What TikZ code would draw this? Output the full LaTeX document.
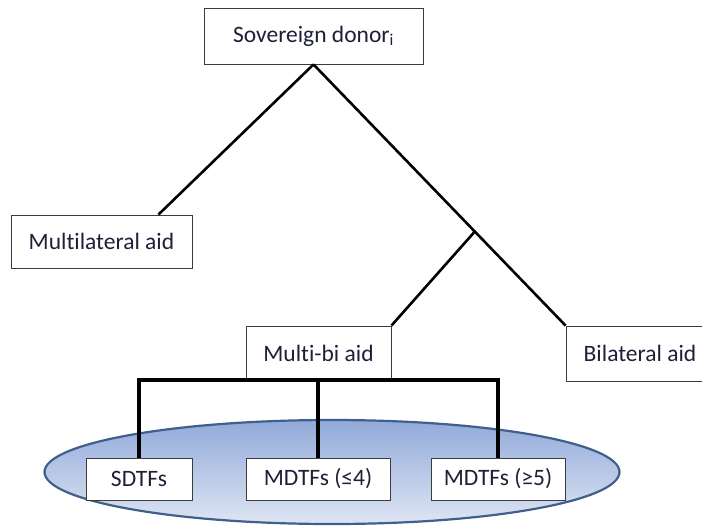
\documentclass[tikz,border=0pt]{standalone}
\usepackage{fontspec}
\setmainfont{Carlito}[Ligatures=NoCommon]
\usepackage{xcolor}
\usetikzlibrary{
    shapes,
    shapes.geometric,
    positioning,
    calc
}
\definecolor{txtnavy}{RGB}{30,32,56}
\definecolor{boxline}{RGB}{60,60,60}
\definecolor{poolline}{RGB}{64,96,140}
\definecolor{pooltop}{RGB}{146,170,218}
\definecolor{poolbottom}{RGB}{222,229,243}
\tikzset{
  basic/.style = {
      draw=boxline,
      line width=0.9pt,
      rectangle,
      fill=white,
      text=txtnavy,
      font=\fontsize{23.5}{28}\selectfont,
      inner sep=0pt,
      align=center
  },
  leaf/.style = {
      basic,
      minimum height=42pt
  },
  edge/.style = {
      line width=2.6pt
  },
  bar/.style = {
      line width=4pt
  },
  pool/.style = {
      ellipse,
      draw=poolline,
      line width=2.2pt,
      top color=pooltop,
      bottom color=poolbottom,
      minimum width=575pt,
      minimum height=104pt
  }
}

\begin{document}
\begin{tikzpicture}[x=1pt, y=-1pt]
    \useasboundingbox (0,0) rectangle (702,528);
    % Ellipse behind the trust funds
    \node[pool] (pool) at (332,472) {};
    % Nodes
    \node[basic, minimum width=219pt, minimum height=56pt] (donor) at (313.5,36) {Sovereign donor\textsubscript{i}};
    \node[basic, minimum width=181pt, minimum height=53pt] (multi) at (101.5,241.5) {Multilateral aid};
    \node[basic, minimum width=148pt, minimum height=55pt] (bi) at (640,353.5) {Bilateral aid};
    \node[basic, minimum width=145pt, minimum height=54pt] (multibi) at (318.5,353) {Multi-bi aid};
    \node[leaf, minimum width=106pt] (sdtf) at (139,479) {SDTFs};
    \node[leaf, minimum width=144pt] (mdtfs) at (318,479) {MDTFs (≤4)};
    \node[leaf, minimum width=134pt] (mdtfl) at (498,479) {MDTFs (≥5)};
    % Edges
    \coordinate (split) at ($(donor.south)!0.64!(bi.north west)$);
    \path[draw, edge]
    (donor.south) -- ($(multi.north east)+(-34,0)$)
    (donor.south) -- (bi.north west)
    (split) -- (multibi.north east);
    \path[draw, bar]
    (sdtf.north) |- (multibi.south) -| (mdtfl.north)
    (mdtfs.north) -- (mdtfs.north |- multibi.south);
\end{tikzpicture}
\end{document}
